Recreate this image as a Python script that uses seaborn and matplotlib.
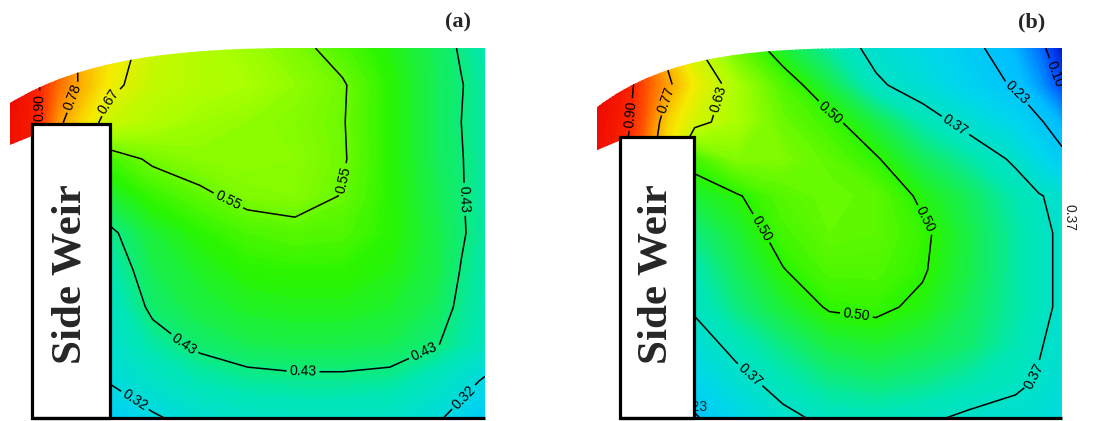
import numpy as np
import seaborn as sns
import matplotlib.pyplot as plt
from matplotlib.patches import Rectangle, PathPatch
from matplotlib.path import Path

sns.set_style("white")
plt.rcParams['font.family'] = ['Liberation Sans', 'DejaVu Sans']

# sample grid (normalised plan coordinates, y = 0 at the bottom wall)
grid_x = [0, 0.05, 0.1, 0.15, 0.21, 0.3, 0.4, 0.5, 0.6, 0.7, 0.8, 0.9, 0.95, 1.0]
grid_y = [0, 0.1, 0.2, 0.3, 0.4, 0.5, 0.6, 0.7, 0.8, 0.9, 1.0]

# values, rows bottom -> top
vals_a = [
    [0.26, 0.26, 0.26, 0.26, 0.26, 0.31, 0.35, 0.37, 0.375, 0.375, 0.37, 0.33, 0.29, 0.25],
    [0.325, 0.325, 0.325, 0.325, 0.325, 0.37, 0.40, 0.415, 0.42, 0.42, 0.415, 0.38, 0.35, 0.31],
    [0.36, 0.36, 0.36, 0.36, 0.36, 0.41, 0.44, 0.455, 0.46, 0.46, 0.455, 0.432, 0.41, 0.39],
    [0.38, 0.38, 0.38, 0.38, 0.38, 0.44, 0.465, 0.48, 0.485, 0.485, 0.475, 0.45, 0.42, 0.40],
    [0.40, 0.40, 0.40, 0.40, 0.40, 0.455, 0.48, 0.50, 0.505, 0.505, 0.49, 0.46, 0.428, 0.405],
    [0.42, 0.42, 0.42, 0.42, 0.42, 0.47, 0.50, 0.525, 0.535, 0.53, 0.50, 0.46, 0.435, 0.41],
    [0.47, 0.47, 0.47, 0.47, 0.47, 0.51, 0.54, 0.565, 0.57, 0.548, 0.50, 0.455, 0.433, 0.41],
    [0.96, 0.93, 0.82, 0.72, 0.52, 0.56, 0.575, 0.58, 0.575, 0.555, 0.50, 0.45, 0.432, 0.41],
    [0.96, 0.93, 0.80, 0.72, 0.64, 0.61, 0.59, 0.58, 0.57, 0.553, 0.50, 0.45, 0.43, 0.41],
    [1.00, 0.92, 0.84, 0.77, 0.69, 0.63, 0.61, 0.60, 0.58, 0.555, 0.50, 0.45, 0.432, 0.41],
    [1.00, 0.95, 0.88, 0.76, 0.71, 0.64, 0.61, 0.59, 0.565, 0.53, 0.49, 0.45, 0.425, 0.40],
]

# values
vals_b = [
    [0.22, 0.22, 0.22, 0.22, 0.22, 0.30, 0.355, 0.385, 0.39, 0.38, 0.36, 0.345, 0.34, 0.32],
    [0.29, 0.29, 0.29, 0.29, 0.29, 0.35, 0.395, 0.425, 0.435, 0.425, 0.405, 0.385, 0.365, 0.34],
    [0.34, 0.34, 0.34, 0.34, 0.34, 0.39, 0.43, 0.465, 0.475, 0.46, 0.44, 0.40, 0.375, 0.35],
    [0.38, 0.38, 0.38, 0.38, 0.38, 0.43, 0.47, 0.505, 0.51, 0.49, 0.45, 0.41, 0.385, 0.36],
    [0.40, 0.40, 0.40, 0.40, 0.40, 0.45, 0.498, 0.53, 0.53, 0.505, 0.46, 0.41, 0.385, 0.36],
    [0.43, 0.43, 0.43, 0.43, 0.43, 0.47, 0.52, 0.545, 0.54, 0.51, 0.46, 0.41, 0.385, 0.36],
    [0.47, 0.47, 0.47, 0.47, 0.47, 0.495, 0.535, 0.55, 0.54, 0.49, 0.45, 0.40, 0.375, 0.35],
    [0.96, 0.92, 0.83, 0.70, 0.52, 0.57, 0.565, 0.54, 0.505, 0.45, 0.41, 0.36, 0.31, 0.25],
    [0.97, 0.93, 0.86, 0.73, 0.65, 0.60, 0.55, 0.515, 0.46, 0.40, 0.35, 0.29, 0.24, 0.19],
    [0.98, 0.94, 0.87, 0.79, 0.69, 0.60, 0.53, 0.46, 0.38, 0.34, 0.28, 0.22, 0.17, 0.09],
    [1.00, 0.95, 0.85, 0.75, 0.64, 0.55, 0.47, 0.41, 0.35, 0.31, 0.25, 0.19, 0.13, 0.03],
]

levels_a = [0.32, 0.43, 0.55, 0.67, 0.78, 0.90]
levels_b = [0.10, 0.23, 0.37, 0.50, 0.63, 0.77, 0.90]

labels_at_a = [(0.055, 0.84), (0.12, 0.873), (0.225, 0.846), (0.457, 0.581),
               (0.71, 0.643), (0.937, 0.59), (0.358, 0.184), (0.617, 0.113),
               (0.87, 0.184), (0.28, 0.081), (0.933, 0.084)]
labels_at_b = [(0.075, 0.82), (0.15, 0.86), (0.265, 0.86), (0.503, 0.827),
               (0.764, 0.778), (0.915, 0.892), (0.985, 0.93), (0.358, 0.516),
               (0.717, 0.543), (0.557, 0.27), (0.325, 0.111), (0.916, 0.124)]

# colour anchors every 0.1 from 0.0 to 1.0
cmap = sns.blend_palette(['#0000B4', '#0050FF', '#00BEFF', '#00D7EB', '#00E6B4',
                          '#28F500', '#AAFF00', '#F5EB00', '#FF9600', '#FF2800',
                          '#E60000'], as_cmap=True)

fig = plt.figure(figsize=(11.17, 4.21), dpi=100)


def panel(rect, vals, levels, label_at, weir, tip, top_ctrl, tag, tag_x):
    ax = fig.add_axes(rect)
    ax.set_xlim(0, 1)
    ax.set_ylim(0, 1)
    ax.axis('off')

    wl, wr, wt = weir
    tip_lo, tip_lo2, tip_hi = tip
    c1, c2, flat = top_ctrl
    verts = [(0, tip_lo), (wl, tip_lo2), (wl, wt), (wr, wt), (wr, 0), (1, 0),
             (1, 1), (flat, 1), c1, c2, (0, tip_hi), (0, tip_lo)]
    codes = [Path.MOVETO] + [Path.LINETO] * 7 + [Path.CURVE4] * 3 + [Path.CLOSEPOLY]
    outline = PathPatch(Path(verts, codes), facecolor='none', edgecolor='none')
    ax.add_patch(outline)

    cf = ax.contourf(grid_x, grid_y, vals, levels=np.linspace(0, 1.0, 201),
                     cmap=cmap, vmin=0.0, vmax=1.0, antialiased=False)
    cf.set_clip_path(outline)

    cs = ax.contour(grid_x, grid_y, vals, levels=levels, colors='black',
                    linewidths=1.1)
    ax.clabel(cs, manual=label_at, inline=True, fmt='%.2f', fontsize=10,
              inline_spacing=3)
    cs.set_clip_path(outline)

    ax.add_patch(Rectangle((wl, 0), wr - wl, wt, facecolor='white',
                           edgecolor='black', lw=2.3, zorder=5, clip_on=False))
    ax.plot([wl, 1.0], [0, 0], color='black', lw=2.3, clip_on=False, zorder=6,
            solid_capstyle='butt')
    ax.text((wl + wr) / 2, 0.39, 'Side Weir', rotation=90, ha='center',
            va='center', fontsize=31, fontweight='bold',
            family=['Liberation Serif'], zorder=7)
    ax.text(tag_x, 1.07, tag, ha='center', va='center', fontsize=16,
            fontweight='bold', family=['Liberation Serif'], clip_on=False)
    return ax


panel([10 / 1117, 3 / 421, 475 / 1117, 370 / 421], vals_a, levels_a, labels_at_a,
      (0.046, 0.21, 0.795), (0.738, 0.762, 0.851),
      ((0.35, 1.0), (0.15, 0.97), 0.61), '(a)', 0.943)

ax_b = panel([597 / 1117, 3 / 421, 465 / 1117, 370 / 421], vals_b, levels_b,
             labels_at_b, (0.049, 0.208, 0.76), (0.724, 0.75, 0.84),
             ((0.35, 1.0), (0.15, 0.985), 0.6), '(b)', 0.935)
ax_b.text(1.017, 0.543, '0.37', rotation=-90, ha='center', va='center',
          fontsize=10, clip_on=False)
ax_b.text(0.208, 0.03, '0.23', ha='center', va='center', fontsize=10, zorder=4)

fig.savefig('out.png', dpi=100, facecolor='white')
